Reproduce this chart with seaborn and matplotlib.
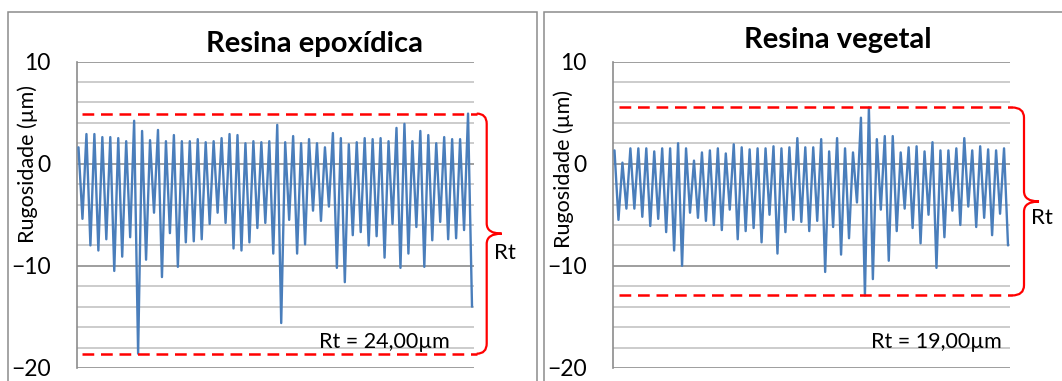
import numpy as np
import pandas as pd
import seaborn as sns
import matplotlib.pyplot as plt
from matplotlib.path import Path
from matplotlib.patches import PathPatch, Rectangle
from matplotlib.transforms import blended_transform_factory

# ---------------- data ----------------
titles = ["Resina epoxídica", "Resina vegetal"]
rt_labels = ["Rt = 24,00µm", "Rt = 19,00µm"]
ylabel = "Rugosidade (µm)"
brace_label = "Rt"
y_ticks = [-20, -10, 0, 10]

epoxi = [1.6, -5.4, 2.9, -8.0, 2.9, -8.5, 2.6, -7.4, 2.6, -10.5,
         2.5, -9.1, 2.2, -7.2, 4.2, -18.6, 3.2, -9.4, 2.3, -4.8,
         3.3, -11.1, 2.2, -6.8, 2.8, -10.1, 2.2, -7.7, 2.2, -7.6,
         2.4, -7.4, 2.1, -5.9, 2.2, -4.8, 2.5, -5.8, 2.9, -8.3,
         2.8, -8.5, 2.0, -7.7, 2.2, -6.3, 2.1, -5.8, 2.2, -8.8,
         3.8, -15.6, 2.1, -5.5, 2.7, -8.8, 2.0, -7.9, 2.4, -4.6,
         2.0, -5.6, 1.6, -4.2, 3.0, -10.2, 2.5, -11.6, 1.9, -7.0,
         2.1, -6.7, 2.5, -8.0, 2.4, -7.1, 2.5, -9.2, 2.2, -5.9,
         3.5, -10.2, 3.9, -8.8, 2.2, -6.2, 3.2, -10.1, 2.8, -7.5,
         2.0, -5.7, 2.6, -7.4, 2.4, -7.3, 2.4, -6.5, 4.9, -14.0]

vegetal = [1.3, -5.5, 0.1, -4.4, 1.5, -4.4, 1.5, -5.2, 1.5, -6.1,
           1.2, -5.4, 1.5, -6.7, 1.5, -8.5, 2.0, -10.0, 1.5, -4.8,
           0.3, -5.3, 1.1, -5.6, 1.3, -6.0, 1.5, -6.5, 1.0, -4.5,
           1.9, -7.4, 1.6, -6.6, 1.4, -6.3, 1.5, -7.7, 1.5, -5.0,
           1.7, -8.8, 1.5, -6.7, 1.6, -5.5, 2.5, -5.7, 1.6, -6.6,
           1.6, -5.6, 2.4, -10.6, 1.2, -6.2, 2.5, -8.9, 1.5, -7.3,
           1.1, -3.8, 4.5, -12.9, 5.5, -11.3, 2.4, -4.5, 2.7, -9.5,
           2.7, -6.6, 1.1, -4.4, 1.6, -6.3, 1.7, -7.8, 1.2, -5.0,
           2.1, -10.2, 1.3, -7.2, 1.3, -4.6, 1.5, -6.0, 2.5, -4.2,
           1.3, -6.2, 1.7, -5.3, 1.4, -7.0, 1.3, -4.9, 1.5, -8.0]

series = [epoxi, vegetal]

# ---------------- style ----------------
sns.set_theme(style="white")
plt.rcParams["font.family"] = ["Lato", "DejaVu Sans"]

W, H = 1062, 381
fig = plt.figure(figsize=(W / 100, H / 100), dpi=100)


def fx(px):
    return px / W


def fy(py):
    return 1 - py / H


LINE_BLUE = "#4a7ebb"
RED = "#ff0000"
GRID_MINOR = "#c4c4c4"
GRID_MAJOR = "#8e8e8e"
BORDER = "#8c8c8c"

# panel frames (figure coords)
for (x0, x1) in [(8, 537), (544, 1075)]:
    fig.patches.append(Rectangle((fx(x0), fy(395)), fx(x1 - x0), (395 - 11.7) / H,
                                 transform=fig.transFigure, fill=False,
                                 edgecolor=BORDER, lw=1.1, clip_on=False))

ax_left_px = [76.5, 612.5]
ax_w_px = 397.5
ax_top, ax_bot = 61.5, 368.0
title_cx = [314.5, 838.0]
title_base = [51.7, 47.7]
rt_right_px = [450.0, 1001.7]
ylabel_y = [0.665, 0.648]
dash_start = [5.5, 6.5]
dash_end = [2.7, 2.0]
brace_v = [12.7, 14.0]
brace_tip = [27.7, 29.0]
rtlab_x = [20.0, 21.0]
rtlab_dy = [-1.9, -1.6]

for i, vals in enumerate(series):
    ax = fig.add_axes([fx(ax_left_px[i]), fy(ax_bot), fx(ax_w_px), (ax_bot - ax_top) / H])
    df = pd.DataFrame({"ponto": np.arange(len(vals)), "rug": vals})
    sns.lineplot(data=df, x="ponto", y="rug", ax=ax, color=LINE_BLUE, lw=1.7,
                 legend=False, zorder=3)
    n = len(vals)
    ax.set_xlim(-0.5, n - 0.5)
    ax.set_ylim(y_ticks[0], y_ticks[-1])
    ax.set_yticks(y_ticks)
    ax.set_yticks(np.arange(y_ticks[0], y_ticks[-1] + 1, 2), minor=True)
    ax.set_xticks([])
    ax.set_xlabel("")
    ax.grid(which="minor", axis="y", color=GRID_MINOR, lw=1.2)
    ax.grid(which="major", axis="y", color=GRID_MAJOR, lw=1.2)
    ax.set_axisbelow(True)
    ax.tick_params(axis="y", which="both", length=0, pad=18.5, labelsize=16.5,
                   labelcolor="black")
    for s in ["top", "right", "bottom"]:
        ax.spines[s].set_visible(False)
    ax.spines["left"].set_color(BORDER)
    ax.spines["left"].set_linewidth(1.2)
    ax.set_ylabel(ylabel, fontsize=15.5, color="black")
    ax.yaxis.set_label_coords(-38.5 / ax_w_px, ylabel_y[i])

    # title
    fig.text(fx(title_cx[i]), fy(title_base[i]), titles[i], ha="center",
             va="baseline", fontsize=21, fontweight="bold", color="black")

    # Rt dashed lines at max / min
    ymax, ymin = max(vals), min(vals)
    tr = blended_transform_factory(ax.transAxes, ax.transData)
    xa = dash_start[i] / ax_w_px
    xb = 1 + dash_end[i] / ax_w_px
    for yv in (ymax, ymin):
        ax.plot([xa, xb], [yv, yv], transform=tr, color=RED, lw=1.8,
                dashes=(4.7, 2.7), clip_on=False, zorder=4)

    # curly brace
    xe = xb
    xv = 1 + brace_v[i] / ax_w_px
    xt = 1 + brace_tip[i] / ax_w_px
    mid = (ymax + ymin) / 2
    r = 1.0
    verts = [(xe, ymax), (xv, ymax), (xv, ymax - r),
             (xv, mid + r), (xv, mid), (xt, mid),
             (xv, mid), (xv, mid - r),
             (xv, ymin + r), (xv, ymin), (xe, ymin)]
    codes = [Path.MOVETO, Path.CURVE3, Path.CURVE3,
             Path.LINETO, Path.CURVE3, Path.CURVE3,
             Path.CURVE3, Path.CURVE3,
             Path.LINETO, Path.CURVE3, Path.CURVE3]
    ax.add_patch(PathPatch(Path(verts, codes), transform=tr, fill=False,
                           edgecolor=RED, lw=1.6, clip_on=False, zorder=4))
    ax.text(1 + rtlab_x[i] / ax_w_px, mid + rtlab_dy[i], brace_label,
            transform=tr, ha="left", va="center", fontsize=16, color="black",
            clip_on=False)

    # Rt value label
    ax.text((rt_right_px[i] - ax_left_px[i]) / ax_w_px, -18.05, rt_labels[i],
            transform=tr, ha="right", va="baseline", fontsize=15.5, color="black",
            zorder=5)

fig.savefig("out.png", dpi=100)
